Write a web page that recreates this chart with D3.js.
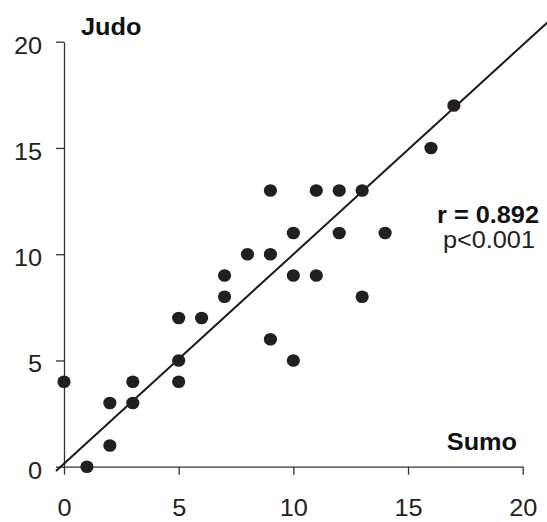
<!DOCTYPE html>
<html>
<head>
<meta charset="utf-8">
<script src="https://cdn.jsdelivr.net/npm/d3@7"></script>
<style>
html,body{margin:0;padding:0;background:#fff;}
svg{display:block;font-family:"Liberation Sans",Arial,sans-serif;}
</style>
</head>
<body>
<svg id="chart" width="547" height="522"></svg>
<script>
// Data (Sumo = x, Judo = y)
const sumo = [0,1,2,2,3,3,5,5,5,6,7,7,8,9,9,9,10,10,10,11,11,12,12,13,13,14,16,17];
const judo = [4,0,3,1,4,3,7,5,4,7,9,8,10,13,10,6,11,9,5,13,9,13,11,13,8,11,15,17];
const xTicks = [0,5,10,15,20];
const yTicks = [0,5,10,15,20];
const regIntercept = 0.145;
const regSlope = 0.985;
const regRange = [-0.35, 21.2];
const xLabel = "Sumo";
const yLabel = "Judo";
const statR = "r = 0.892";
const statP = "p<0.001";

const svg = d3.select("#chart");
const x = d3.scaleLinear().domain([0,20]).range([64,522.7]);
const y = d3.scaleLinear().domain([0,20]).range([466.7,41.7]);
const axisColor = "#333";
const textColor = "#222";
const fs = 23;
const sx = 1.1; // horizontal stretch of the original text

// x axis
const gx = svg.append("g").attr("transform", `translate(0,${y(0)})`)
  .call(d3.axisBottom(x).tickValues(xTicks).tickSize(8).tickPadding(25).tickSizeOuter(0));
// y axis
const gy = svg.append("g").attr("transform", `translate(${x(0)},0)`)
  .call(d3.axisLeft(y).tickValues(yTicks).tickSize(8).tickPadding(12).tickSizeOuter(0));
[gx, gy].forEach(g => {
  g.select(".domain").attr("stroke", axisColor).attr("stroke-width", 1.3);
  g.selectAll(".tick line").attr("stroke", axisColor).attr("stroke-width", 1.3);
  g.selectAll(".tick text").attr("fill", textColor).attr("font-size", fs)
    .attr("font-family", "'Liberation Sans', Arial, sans-serif")
    .attr("transform", `scale(${sx},1)`);
});
gy.selectAll(".tick text").attr("dy", "0.5em");

// regression line
svg.append("line")
  .attr("x1", x(regRange[0])).attr("y1", y(regIntercept + regSlope*regRange[0]))
  .attr("x2", x(regRange[1])).attr("y2", y(regIntercept + regSlope*regRange[1]))
  .attr("stroke", "#1a1a1a").attr("stroke-width", 2);

// points
svg.append("g").selectAll("ellipse")
  .data(sumo.map((s,i)=>({s, j: judo[i]})))
  .join("ellipse")
  .attr("cx", d => x(d.s)).attr("cy", d => y(d.j))
  .attr("rx", 6.6).attr("ry", 6.3)
  .attr("fill", "#231f20");

// labels
function label(tx, ty, anchor, weight, txt){
  svg.append("text").attr("transform", `translate(${tx},${ty}) scale(${sx},1)`)
    .attr("text-anchor", anchor).attr("font-size", fs).attr("font-weight", weight)
    .attr("fill", weight === "bold" ? "#111" : "#222").text(txt);
}
label(81, 35, "start", "bold", yLabel);
label(517, 450, "end", "bold", xLabel);
label(539, 223, "end", "bold", statR);
label(535, 248, "end", "normal", statP);
</script>
</body>
</html>
